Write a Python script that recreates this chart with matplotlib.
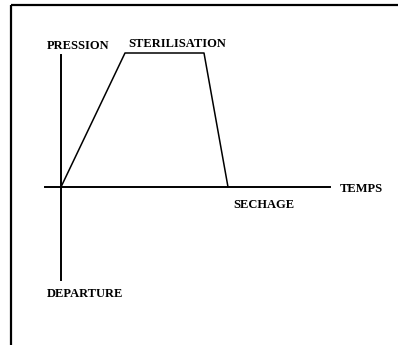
import matplotlib
matplotlib.use("Agg")
import matplotlib.pyplot as plt

# pressure profile of the cycle (arbitrary units, origin at axes crossing)
temps = [0, 64, 143, 167]
pression = [0, 134, 134, 0]

# phase labels: text, x, y
labels = [
    ("PRESSION", -14, 141),
    ("STERILISATION", 67, 143),
    ("TEMPS", 279, -2),
    ("SECHAGE", 172, -18),
    ("DEPARTURE", -14, -107),
]

fig = plt.figure(figsize=(3.98, 3.45), dpi=100)
ax = fig.add_axes([0, 0, 1, 1])
ax.set_xlim(-61, 337)
ax.set_ylim(-158, 187)
ax.axis("off")

# frame (top and left only)
ax.plot([-50.5, 337], [182, 182], color="black", lw=1.6, solid_capstyle="butt")
ax.plot([-50.5, -50.5], [182, -158], color="black", lw=1.6, solid_capstyle="butt")

# axes
ax.plot([0, 0], [132, -93], color="black", lw=1.4)
ax.plot([-16, 269], [0, 0], color="black", lw=1.4)

# cycle curve
ax.plot(temps, pression, color="black", lw=1.1)

for txt, x, y in labels:
    ax.text(x, y, txt, ha="left", va="center", fontsize=9,
            fontweight="bold", family="Liberation Serif")

fig.savefig("out.png", dpi=100)
